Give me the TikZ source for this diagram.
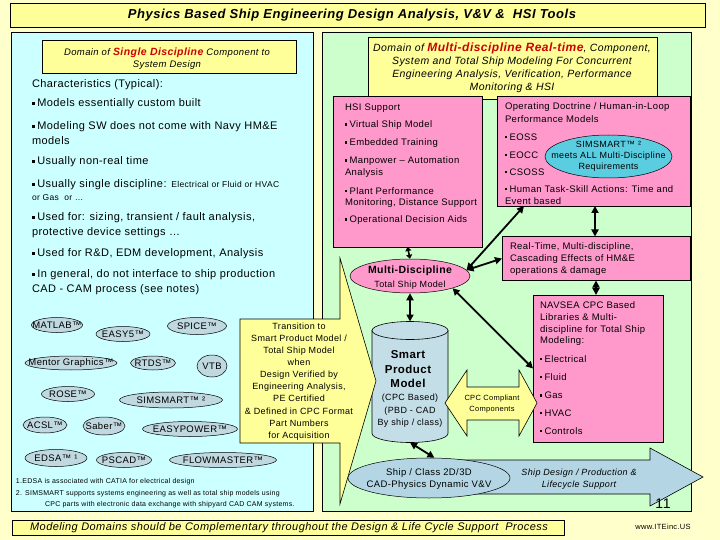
\documentclass[tikz,border=0pt]{standalone}
\usepackage{fontspec}
\setmainfont{Liberation Sans}[LetterSpace=4]
\usetikzlibrary{shapes.geometric,arrows.meta,calc}
\definecolor{bgc}{RGB}{255,255,204}
\definecolor{yelc}{RGB}{255,255,153}
\definecolor{cyanp}{RGB}{204,255,255}
\definecolor{greenp}{RGB}{204,255,204}
\definecolor{pinkc}{RGB}{255,153,204}
\definecolor{grayel}{RGB}{192,216,224}
\definecolor{cylc}{RGB}{196,222,232}
\definecolor{bluec}{RGB}{180,214,228}
\definecolor{simc}{RGB}{90,205,225}
\definecolor{redt}{RGB}{204,0,0}
\newcommand\sq{\rule[0.2em]{0.26em}{0.26em}\hspace{0.22em}}
\newcommand\fs[2]{\fontsize{#1}{#2}\selectfont}
\tikzset{
 box/.style={draw=black, line width=0.6pt, inner sep=0pt, outer sep=0pt},
 tl/.style={anchor=west, inner sep=0pt, outer sep=0pt},
 lf/.style={tl, font=\fs{11}{13}},
 pf/.style={tl, font=\fs{9.5}{11}},
 tc/.style={inner sep=0pt, outer sep=0pt, align=center},
 gel/.style={ellipse, draw=black, line width=0.5pt, fill=grayel, inner sep=0pt, outer sep=0pt},
 gt/.style={inner sep=0pt, font=\fs{9.5}{11}},
 shp/.style={fill=#1, draw=black, line width=0.6pt},
 dbl/.style={line width=1.8pt, {Triangle[length=7pt,width=7pt]}-{Triangle[length=7pt,width=7pt]}},
 dbls/.style={line width=1.6pt, {Triangle[length=4pt,width=6pt]}-{Triangle[length=4pt,width=6pt]}},
}
\begin{document}
\begin{tikzpicture}[x=1pt,y=-1pt]
\fill[bgc] (0,0) rectangle (720,540);
\useasboundingbox (0,0) rectangle (720,540);

% title
\node[box, fill=yelc, minimum width=695, minimum height=24, anchor=north west] (titlebox) at (10,3) {};
\node[tc, font=\fs{13}{15}\bfseries\itshape] (title) at (352,15) {Physics Based Ship Engineering Design Analysis, V\&V \&\ \ HSI Tools};

% panels
\node[box, fill=cyanp, minimum width=302, minimum height=479, anchor=north west] (lp) at (11,32) {};
\node[box, fill=greenp, minimum width=369, minimum height=479, anchor=north west] (rp) at (322,32) {};

% left header
\node[box, fill=yelc, minimum width=254, minimum height=33, anchor=north west] (lh) at (42,40) {};
\node[tc, font=\fs{9.5}{12}\itshape] (lht) at (167,59) {Domain of {\color{redt}\fs{10.5}{12}\bfseries Single Discipline} Component to\\System Design};

% right header
\node[box, fill=yelc, minimum width=289, minimum height=62, anchor=north west] (rh) at (368,37) {};
\node[tc, font=\fs{10.5}{13}\itshape] (rht) at (512,67.5) {Domain of {\color{redt}\fs{12}{13}\bfseries Multi-discipline Real-time}, Component,\\System and Total Ship Modeling For Concurrent\\Engineering Analysis, Verification, Performance\\Monitoring \& HSI};

% left bullets
\node[lf] (ch) at (32,85) {Characteristics (Typical):};
\node[lf] (b1) at (32,104) {\sq Models essentially custom built};
\node[lf] (b2a) at (32,127) {\sq Modeling SW does not come with Navy HM\&E};
\node[lf] (b2b) at (32,141) {models};
\node[lf] (b3) at (32,162) {\sq Usually non-real time};
\node[lf] (b4a) at (32,185) {\sq Usually single discipline: {\fs{8.5}{10}Electrical or Fluid or HVAC}};
\node[tl, font=\fs{8.5}{10}] (b4b) at (32,198) {or Gas\ \ or …};
\node[lf] (b5a) at (32,218) {\sq Used for: sizing, transient / fault analysis,};
\node[lf] (b5b) at (32,233) {protective device settings …};
\node[lf] (b6) at (32,254) {\sq Used for R\&D, EDM development, Analysis};
\node[lf] (b7a) at (32,275) {\sq In general, do not interface to ship production};
\node[lf] (b7b) at (32,290) {CAD - CAM process (see notes)};

% gray ellipses
\node[gel, minimum width=51, minimum height=15] (matlab) at (57,325) {};
\node[gt] (matlabt) at (matlab) {MATLAB™};
\node[gel, minimum width=54, minimum height=15] (easy5) at (123,334) {};
\node[gt] (easy5t) at (easy5) {EASY5™};
\node[gel, minimum width=59, minimum height=17] (spice) at (197,326) {};
\node[gt] (spicet) at (spice) {SPICE™};
\node[gel, minimum width=92, minimum height=14] (mentor) at (71,363) {};
\node[gt] (mentort) at (mentor) {Mentor Graphics™};
\node[gel, minimum width=45, minimum height=14] (rtds) at (153,363) {};
\node[gt] (rtdst) at (rtds) {RTDS™};
\node[gel, minimum width=30, minimum height=22] (vtb) at (212,366) {};
\node[gt] (vtbt) at (vtb) {VTB};
\node[gel, minimum width=53, minimum height=15] (rose) at (68,394) {};
\node[gt] (roset) at (rose) {ROSE™};
\node[gel, minimum width=103, minimum height=16] (sims) at (171,400) {};
\node[gt] (simst) at (sims) {SIMSMART™ ²};
\node[gel, minimum width=44, minimum height=16] (acsl) at (45,425) {};
\node[gt] (acslt) at (acsl) {ACSL™};
\node[gel, minimum width=42, minimum height=18] (saber) at (104,426) {};
\node[gt] (sabert) at (saber) {Saber™};
\node[gel, minimum width=95, minimum height=15] (easyp) at (190,429) {};
\node[gt] (easypt) at (easyp) {EASYPOWER™};
\node[gel, minimum width=62, minimum height=17] (edsa) at (56,458) {};
\node[gt] (edsat) at (edsa) {EDSA™ ¹};
\node[gel, minimum width=55, minimum height=15] (pscad) at (124,460) {};
\node[gt] (pscadt) at (pscad) {PSCAD™};
\node[gel, minimum width=107, minimum height=15] (flow) at (223,460) {};
\node[gt] (flowt) at (flow) {FLOWMASTER™};

% footnotes
\node[tl, font=\fs{7}{8}] (fn1) at (16,482) {1.EDSA is associated with CATIA for electrical design};
\node[tl, font=\fs{7}{8}] (fn2) at (16,494) {2. SIMSMART supports systems engineering as well as total ship models using};
\node[tl, font=\fs{7}{8}] (fn3) at (45,505) {CPC parts with electronic data exchange with shipyard CAD CAM systems.};

% pink boxes
\node[box, fill=pinkc, minimum width=149, minimum height=151, anchor=north west] (hsi) at (333,96) {};
\node[box, fill=pinkc, minimum width=193, minimum height=110, anchor=north west] (od) at (497,96) {};
\node[box, fill=pinkc, minimum width=188, minimum height=44, anchor=north west] (rt) at (502,236.5) {};
\node[box, fill=pinkc, minimum width=130, minimum height=147, anchor=north west] (nav) at (533,295) {};

\node[pf] (hs1) at (345,108) {HSI Support};
\node[pf] (hs2) at (345,125) {\sq Virtual Ship Model};
\node[pf] (hs3) at (345,143) {\sq Embedded Training};
\node[pf] (hs4) at (345,161) {\sq Manpower – Automation};
\node[pf] (hs5) at (345,173) {Analysis};
\node[pf] (hs6) at (345,191) {\sq Plant Performance};
\node[pf] (hs7) at (345,203) {Monitoring, Distance Support};
\node[pf] (hs8) at (345,220) {\sq Operational Decision Aids};

\node[pf] (od1) at (505,107) {Operating Doctrine / Human-in-Loop};
\node[pf] (od2) at (505,119) {Performance Models};
\node[pf] (od3) at (505,137) {\sq EOSS};
\node[pf] (od4) at (505,155) {\sq EOCC};
\node[pf] (od5) at (505,172) {\sq CSOSS};
\node[pf] (od6) at (505,189) {\sq Human Task-Skill Actions: Time and};
\node[pf] (od7) at (505,201) {Event based};

\node[ellipse, draw=black, line width=0.5pt, fill=simc, minimum width=127, minimum height=43, inner sep=0pt] (sime) at (608.5,156.5) {};
\node[tc, font=\fs{9}{11}] (simet) at (sime) {SIMSMART™ ²\\meets ALL Multi-Discipline\\Requirements};

\node[pf] (rt1) at (510,247) {Real-Time, Multi-discipline,};
\node[pf] (rt2) at (510,259) {Cascading Effects of HM\&E};
\node[pf] (rt3) at (510,271) {operations \& damage};

\node[pf] (nv1) at (540,305.5) {NAVSEA CPC Based};
\node[pf] (nv2) at (540,317.5) {Libraries \& Multi-};
\node[pf] (nv3) at (540,330) {discipline for Total Ship};
\node[pf] (nv4) at (540,341.5) {Modeling:};
\node[pf] (nv5) at (540,359) {\sq Electrical};
\node[pf] (nv6) at (540,377) {\sq Fluid};
\node[pf] (nv7) at (540,395.5) {\sq Gas};
\node[pf] (nv8) at (540,413) {\sq HVAC};
\node[pf] (nv9) at (540,431) {\sq Controls};

% multi-discipline ellipse
\node[ellipse, draw=black, line width=0.5pt, fill=pinkc, minimum width=120, minimum height=34, inner sep=0pt] (md) at (410,276) {};
\node[tc, font=\fs{10.5}{12}\bfseries] (mdt1) at (410,270.5) {Multi-Discipline};
\node[tc, font=\fs{9}{11}] (mdt2) at (410,285.5) {Total Ship Model};

% cylinder (smart product model)
\node[inner sep=0pt, outer sep=0pt, minimum width=76, minimum height=121] (cyl) at (410,382) {};
\filldraw[shp=cylc] (372,330.5) -- (372,433.5) arc[start angle=180, end angle=0, x radius=38, y radius=9] -- (448,330.5) -- cycle;
\filldraw[shp=cylc] (410,330.5) ellipse [x radius=38, y radius=9];
\node[tc, font=\fs{11.5}{14.5}\bfseries] (cylt1) at (408,369.5) {Smart\\Product\\Model};
\node[tc, font=\fs{9}{12.5}] (cylt2) at (410,411) {(CPC Based)\\(PBD - CAD\\By ship / class)};

% transition arrow
\filldraw[shp=yelc] (240,319) -- (340,319) -- (340,258) -- (376,381) -- (340,504) -- (340,443) -- (240,443) -- cycle;
\node[tc, font=\fs{9}{12.1}] (trans) at (299,381.5) {Transition to\\Smart Product Model /\\Total Ship Model\\when\\Design Verified by\\Engineering Analysis,\\PE Certified\\\& Defined in CPC Format\\Part Numbers\\for Acquisition};

% CPC compliant arrow
\filldraw[shp=yelc] (445,403) -- (467,370) -- (467,387) -- (519,387) -- (519,370) -- (537,403) -- (519,436) -- (519,420) -- (467,420) -- (467,436) -- cycle;
\node[tc, font=\fs{7.5}{11}] (cpct) at (492,404.5) {CPC Compliant\\Components};

% big blue arrow and ship/class ellipse
\filldraw[shp=bluec] (440,460) -- (650,460) -- (650,448) -- (703,477) -- (650,506) -- (650,494) -- (440,494) -- cycle;
\node[ellipse, draw=black, line width=0.5pt, fill=bluec, minimum width=162, minimum height=40, inner sep=0pt] (sc) at (429,478) {};
\node[tc, font=\fs{9.5}{12.5}] (sct) at (429,479) {Ship / Class 2D/3D\\CAD-Physics Dynamic V\&V};
\node[tc, font=\fs{9}{12}\itshape] (sdt) at (579,479) {Ship Design / Production \&\\Lifecycle Support};

% connectors
\draw[dbls] (hsi.south) -- (md.north);
\draw[dbl] (md.south) -- (cyl.north);
\draw[dbl] (md.6) -- ($(od.south west)+(27,0)$);
\draw[dbl] (md.6) -- (rt.west);
\draw[dbl] (md.-16) -- (nav.west);
\draw[dbl] ($(od.south west)+(98,0)$) -- ($(rt.north west)+(93,0)$);
\draw[dbl] ($(rt.south west)+(94,0)$) -- ($(nav.north west)+(63,0)$);
\draw[dbl] (cyl.south) -- (sc.75);

% page number, footer
\node[tc, font=\fs{14}{16}] (pg) at (663,504) {11};
\node[box, fill=yelc, minimum width=552, minimum height=15, anchor=north west] (bb) at (12,520) {};
\node[tc, font=\fs{11}{13}\itshape] (bbt) at (289,527.5) {Modeling Domains should be Complementary throughout the Design \& Life Cycle Support\ \ Process};
\node[tc, font=\fs{7.5}{9}] (www) at (663,527) {www.ITEinc.US};
\end{tikzpicture}
\end{document}
